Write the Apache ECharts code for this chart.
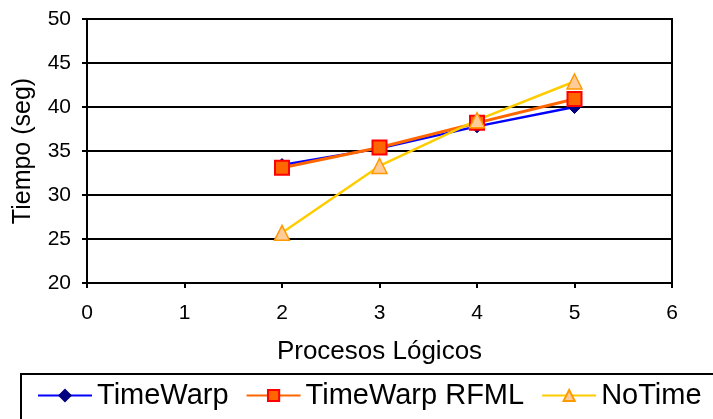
<!DOCTYPE html>
<html>
<head>
<meta charset="utf-8">
<script src="https://cdn.jsdelivr.net/npm/echarts@6/dist/echarts.min.js"></script>
<style>
html,body{margin:0;padding:0;background:#fff;overflow:hidden;}
#chart{width:713px;height:419px;}
</style>
</head>
<body>
<div id="chart"></div>
<script>
var procesos = [2, 3, 4, 5];
var timeWarp = [33.4, 35.3, 37.8, 40.0];
var timeWarpRFML = [33.1, 35.4, 38.2, 40.9];
var noTime = [25.7, 33.3, 38.5, 42.9];
var xTicks = [0, 1, 2, 3, 4, 5, 6];
var yTicks = [20, 25, 30, 35, 40, 45, 50];

function pairs(xs, ys) { return xs.map(function (x, i) { return [x, ys[i]]; }); }

var FONT = '"Liberation Sans", Arial, sans-serif';
var chart = echarts.init(document.getElementById('chart'), null, {renderer: 'canvas'});
chart.setOption({
  animation: false,
  backgroundColor: '#fff',
  textStyle: {fontFamily: FONT},
  grid: {left: 87, right: 41, top: 19, bottom: 136, show: true, borderColor: '#000', borderWidth: 2, containLabel: false},
  xAxis: {
    type: 'value', min: xTicks[0], max: xTicks[xTicks.length - 1], interval: 1,
    name: 'Procesos Lógicos', nameLocation: 'middle', nameGap: 56,
    nameTextStyle: {color: '#000', fontSize: 26, fontFamily: FONT},
    axisLine: {lineStyle: {color: '#000', width: 2}},
    axisTick: {show: true, inside: false, length: 5, lineStyle: {color: '#000', width: 2}},
    axisLabel: {color: '#000', fontSize: 21, margin: 20, fontFamily: FONT},
    splitLine: {show: false}
  },
  yAxis: {
    type: 'value', min: yTicks[0], max: yTicks[yTicks.length - 1], interval: 5,
    name: 'Tiempo (seg)', nameLocation: 'middle', nameGap: 51, nameRotate: 90,
    nameTextStyle: {color: '#000', fontSize: 25, fontFamily: FONT},
    axisLine: {show: true, lineStyle: {color: '#000', width: 2}},
    axisTick: {show: true, inside: false, length: 5, lineStyle: {color: '#000', width: 2}},
    axisLabel: {color: '#000', fontSize: 21, margin: 16, fontFamily: FONT},
    splitLine: {show: true, lineStyle: {color: '#000', width: 2}}
  },
  legend: {
    left: 21, top: 374, width: 900,
    orient: 'horizontal',
    padding: [7, 40, 30, 16],
    borderColor: '#000', borderWidth: 2,
    itemWidth: 54, itemHeight: 14, itemGap: 17,
    textStyle: {color: '#000', fontSize: 29, fontFamily: FONT},
    data: ['TimeWarp', 'TimeWarp RFML', 'NoTime']
  },
  series: [
    {
      name: 'TimeWarp', type: 'line', data: pairs(procesos, timeWarp),
      symbol: 'diamond', symbolSize: 13,
      lineStyle: {color: '#0000FF', width: 2.5},
      itemStyle: {color: '#000080', borderColor: '#000080', borderWidth: 1}
    },
    {
      name: 'TimeWarp RFML', type: 'line', data: pairs(procesos, timeWarpRFML),
      symbol: 'rect', symbolSize: 14,
      lineStyle: {color: '#FF6600', width: 3},
      itemStyle: {color: '#FF6600', borderColor: '#FF0000', borderWidth: 2}
    },
    {
      name: 'NoTime', type: 'line', data: pairs(procesos, noTime),
      symbol: 'triangle', symbolSize: 15,
      lineStyle: {color: '#FFCC00', width: 2.5},
      itemStyle: {color: '#FFCC99', borderColor: '#FF9900', borderWidth: 1.5}
    }
  ]
});
</script>
</body>
</html>
